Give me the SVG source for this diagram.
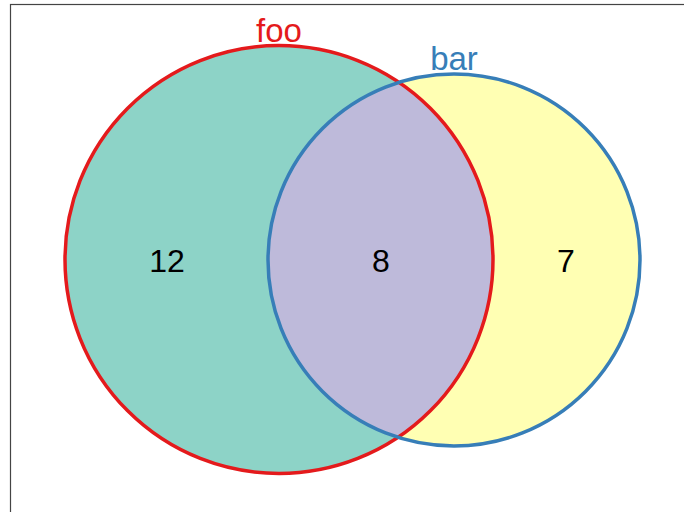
<svg xmlns="http://www.w3.org/2000/svg" width="684" height="512" viewBox="0 0 684 512">
<style>
.lbl{font-family:"Liberation Sans",Arial,sans-serif;text-anchor:middle}
.num{font-size:32px;fill:#000}
</style>
<defs>
<clipPath id="clipFoo"><circle cx="279" cy="259.5" r="214"/></clipPath>
</defs>
<rect x="10.5" y="4.5" width="700" height="520" fill="#fff" stroke="#444" stroke-width="1.2"/>
<g id="foo">
<circle cx="279" cy="259.5" r="214" fill="#8DD3C7"/>
</g>
<g id="bar">
<circle cx="454" cy="260" r="186" fill="#FFFFB3"/>
</g>
<g id="overlap">
<circle cx="454" cy="260" r="186" fill="#BEBADA" clip-path="url(#clipFoo)"/>
</g>
<g id="outlines" fill="none" stroke-width="3.5">
<circle cx="279" cy="259.5" r="214" stroke="#E41A1C"/>
<circle cx="454" cy="260" r="186" stroke="#377EB8"/>
</g>
<text class="lbl" x="279" y="42" font-size="33" fill="#E41A1C">foo</text>
<text class="lbl" x="454" y="70" font-size="33" fill="#377EB8">bar</text>
<text class="lbl num" x="167" y="272">12</text>
<text class="lbl num" x="381" y="272">8</text>
<text class="lbl num" x="566" y="272">7</text>
</svg>
